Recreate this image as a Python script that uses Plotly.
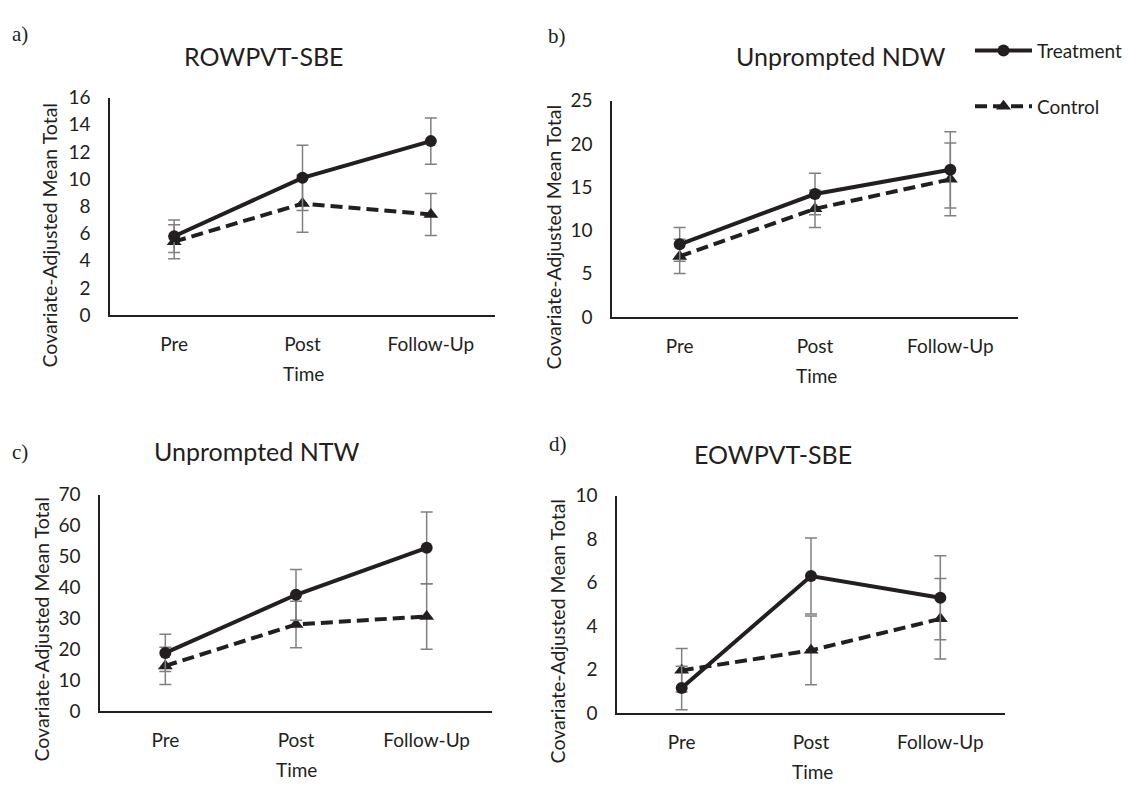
import plotly.graph_objects as go

PAGE_W, PAGE_H = 1133, 789
OFF = 8  # default body margin of the html page
W, H = PAGE_W - OFF, PAGE_H - OFF

times = ["Pre", "Post", "Follow-Up"]
panel_titles = ["ROWPVT-SBE", "Unprompted NDW", "Unprompted NTW", "EOWPVT-SBE"]
panel_letters = ["a)", "b)", "c)", "d)"]
series_names = ["Treatment", "Control"]

treat_a = [5.8, 10.1, 12.8]
treat_a_err = [1.2, 2.4, 1.7]
ctrl_a = [5.4, 8.2, 7.4]
ctrl_a_err = [1.25, 2.1, 1.55]

treat_b = [8.4, 14.2, 17.0]
treat_b_err = [1.95, 2.4, 4.4]
ctrl_b = [7.0, 12.5, 15.9]
ctrl_b_err = [1.97, 2.15, 4.2]

treat_c = [18.8, 37.6, 52.8]
treat_c_err = [6.0, 8.2, 11.6]
ctrl_c = [14.6, 28.0, 30.6]
ctrl_c_err = [6.0, 7.5, 10.6]

treat_d = [1.15, 6.3, 5.3]
treat_d_err = [1.0, 1.75, 1.93]
ctrl_d = [1.96, 2.88, 4.33]
ctrl_d_err = [1.0, 1.58, 1.85]

y_max = [16, 25, 70, 10]
y_step = [2, 5, 10, 2]

treat_all = [treat_a, treat_b, treat_c, treat_d]
treat_err_all = [treat_a_err, treat_b_err, treat_c_err, treat_d_err]
ctrl_all = [ctrl_a, ctrl_b, ctrl_c, ctrl_d]
ctrl_err_all = [ctrl_a_err, ctrl_b_err, ctrl_c_err, ctrl_d_err]

# layout boxes in page pixels: left, right, top, bottom
boxes = [(110, 495, 88, 312), (612, 1018, 91, 314), (100, 492, 497, 720), (617, 1005, 498, 722)]
title_pos = [(264, 45), (840, 45), (257, 452), (773, 455)]
letter_pos = [(10, 22), (546, 24), (10, 453), (547, 445)]
ytitle_pos = [(49, 230), (553, 232), (42, 636), (557, 638)]
xtitle_pos = [(303, 372), (816, 374), (296, 780), (812, 782)]

INK = "#231f20"
ERR = "#808080"
FONT = "Lato"


def px(x):
    return (x - OFF) / W


def py(y):
    return 1 - (y - OFF) / H


fig = go.Figure()
annotations = []
for i in range(4):
    n = "" if i == 0 else str(i + 1)
    xa, ya = "x" + n, "y" + n
    # control first so treatment draws on top
    fig.add_trace(go.Scatter(
        x=times, y=ctrl_all[i], xaxis=xa, yaxis=ya, name=series_names[1],
        mode="lines+markers", legendgroup="ctrl", legendrank=2, showlegend=(i == 0),
        line=dict(color=INK, width=4, dash="12px,6px"),
        marker=dict(symbol="triangle-up", size=13, color=INK),
        error_y=dict(type="data", array=ctrl_err_all[i], color=ERR, thickness=1.5, width=6),
    ))
    fig.add_trace(go.Scatter(
        x=times, y=treat_all[i], xaxis=xa, yaxis=ya, name=series_names[0],
        mode="lines+markers", legendgroup="treat", legendrank=1, showlegend=(i == 0),
        line=dict(color=INK, width=4),
        marker=dict(symbol="circle", size=12, color=INK),
        error_y=dict(type="data", array=treat_err_all[i], color=ERR, thickness=1.5, width=6),
    ))
    l, r, t, b = boxes[i]
    fig.layout["xaxis" + n] = dict(
        domain=[px(l), px(r)], anchor=ya, type="category", range=[-0.5, 2.5],
        showline=True, linecolor=INK, linewidth=1.5, showgrid=False, zeroline=False,
        ticks="", ticklabelstandoff=11, tickfont=dict(family=FONT, size=19, color=INK),
        fixedrange=True,
    )
    fig.layout["yaxis" + n] = dict(
        domain=[py(b), py(t)], anchor=xa, range=[0, y_max[i]], dtick=y_step[i], tick0=0,
        showline=True, linecolor=INK, linewidth=1.5, showgrid=False, zeroline=False,
        ticks="", ticklabelstandoff=14, tickfont=dict(family=FONT, size=19, color=INK),
        fixedrange=True,
    )
    annotations.append(dict(text=panel_titles[i], x=px(title_pos[i][0]), y=py(title_pos[i][1]),
                            xref="paper", yref="paper", xanchor="center", yanchor="middle",
                            showarrow=False, font=dict(family=FONT, size=25, color=INK)))
    annotations.append(dict(text=panel_letters[i], x=px(letter_pos[i][0]), y=py(letter_pos[i][1]),
                            xref="paper", yref="paper", xanchor="left", yanchor="middle",
                            showarrow=False, font=dict(family="Liberation Serif", size=21, color=INK)))
    annotations.append(dict(text="Covariate-Adjusted Mean Total", x=px(ytitle_pos[i][0]), y=py(ytitle_pos[i][1]),
                            xref="paper", yref="paper", xanchor="center", yanchor="middle", textangle=-90,
                            showarrow=False, font=dict(family=FONT, size=19.5, color=INK)))
    annotations.append(dict(text="Time", x=px(xtitle_pos[i][0]), y=py(xtitle_pos[i][1]),
                            xref="paper", yref="paper", xanchor="center", yanchor="middle",
                            showarrow=False, font=dict(family=FONT, size=19, color=INK)))

fig.update_layout(
    width=W, height=H, autosize=False,
    margin=dict(l=0, r=0, t=0, b=0),
    paper_bgcolor="white", plot_bgcolor="white",
    annotations=annotations,
    legend=dict(x=px(970), y=py(20), xanchor="left", yanchor="top",
                traceorder="grouped", tracegroupgap=28, itemwidth=57,
                font=dict(family=FONT, size=19, color=INK), bgcolor="rgba(0,0,0,0)"),
)

fig.write_html("out.html")
